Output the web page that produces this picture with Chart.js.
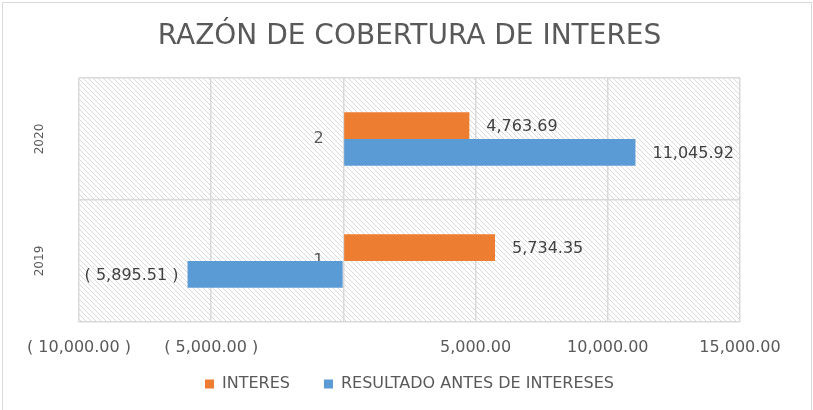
<!DOCTYPE html>
<html>
<head>
    <meta charset="UTF-8" />
    <title>Razón de cobertura de intereses</title>
    <script src="https://cdn.jsdelivr.net/npm/chart.js@4.4.1/dist/chart.umd.min.js"></script>
    <style>
        body { margin: 0; background: white; }
        #wrap { position: relative; width: 813px; height: 410px; overflow: hidden; }
        #frame {
            position: absolute; left: 2px; top: 2px; width: 808px; height: 420px;
            border: 1px solid #d9d9d9; pointer-events: none;
        }
    </style>
</head>
<body>
    <div id="wrap">
        <canvas id="coberturaChart"></canvas>
        <div id="frame"></div>
    </div>

    <script>
        var years = ['2020', '2019'];
        var rowNumbers = ['2', '1'];
        var interes = [4763.69, 5734.35];
        var resultadoAntes = [11045.92, -5895.51];
        var seriesNames = ['INTERES', 'RESULTADO ANTES DE INTERESES'];

        var fontFamily = '"DejaVu Sans", sans-serif';
        var textGray = '#595959';
        var gridGray = '#d9d9d9';

        // excel style: 5,000.00 and ( 5,000.00 ) for negatives
        function money(v) {
            var s = Math.abs(v).toFixed(2).replace(/\B(?=(\d{3})+(?!\d))/g, ',');
            return v < 0 ? '( ' + s + ' )' : s;
        }

        // diagonal hatch behind the plot area
        var hatch = document.createElement('canvas');
        hatch.width = 5;
        hatch.height = 5;
        var hctx = hatch.getContext('2d');
        hctx.strokeStyle = '#dadada';
        hctx.lineWidth = 1;
        hctx.beginPath();
        hctx.moveTo(0, 0); hctx.lineTo(5, 5);
        hctx.moveTo(-1, 4); hctx.lineTo(1, 6);
        hctx.moveTo(4, -1); hctx.lineTo(6, 1);
        hctx.stroke();

        var hatchPlugin = {
            id: 'hatch',
            beforeDraw: function (chart) {
                var a = chart.chartArea;
                var ctx = chart.ctx;
                ctx.save();
                ctx.fillStyle = ctx.createPattern(hatch, 'repeat');
                ctx.fillRect(a.left, a.top, a.right - a.left, a.bottom - a.top);
                ctx.restore();
            }
        };

        var valueLabels = {
            id: 'valueLabels',
            afterDatasetsDraw: function (chart) {
                var ctx = chart.ctx;
                ctx.save();
                ctx.font = '16px ' + fontFamily;
                ctx.fillStyle = '#404040';
                ctx.textBaseline = 'middle';
                chart.data.datasets.forEach(function (ds, i) {
                    chart.getDatasetMeta(i).data.forEach(function (bar, j) {
                        var v = ds.data[j];
                        if (v >= 0) {
                            ctx.textAlign = 'left';
                            ctx.fillText(money(v), bar.x + 17, bar.y + 1);
                        } else {
                            ctx.textAlign = 'right';
                            ctx.fillText(money(v), bar.x - 9, bar.y + 1);
                        }
                    });
                });
                ctx.restore();
            }
        };

        var data = {
            labels: years,
            datasets: [{
                label: seriesNames[0],
                data: interes,
                backgroundColor: '#ed7d31'
            }, {
                label: seriesNames[1],
                data: resultadoAntes,
                backgroundColor: '#5b9bd5'
            }]
        };

        var options = {
            indexAxis: 'y',
            responsive: true,
            maintainAspectRatio: false,
            animation: false,
            categoryPercentage: 0.44,
            barPercentage: 1,
            layout: { padding: { left: 0, right: 73, top: 0, bottom: 8 } },
            plugins: {
                title: {
                    display: true,
                    fullSize: false,
                    text: 'RAZÓN DE COBERTURA DE INTERES',
                    color: textGray,
                    font: { family: fontFamily, size: 28, weight: 'normal', lineHeight: 1.2 },
                    padding: { top: 20, bottom: 24.4 }
                },
                legend: {
                    position: 'bottom',
                    fullSize: false,
                    labels: {
                        color: textGray,
                        font: { family: fontFamily, size: 16 },
                        boxWidth: 9,
                        boxHeight: 9,
                        padding: 34
                    }
                },
                tooltip: { enabled: false }
            },
            scales: {
                x: {
                    min: -10000,
                    max: 15000,
                    ticks: {
                        stepSize: 5000,
                        color: textGray,
                        font: { family: fontFamily, size: 16 },
                        mirror: true,      // avoids the label clip, the box is shrunk below
                        padding: -35.6,
                        callback: function (v) { return v === 0 ? '' : money(v); }
                    },
                    grid: { color: gridGray, lineWidth: 1.5, drawTicks: false },
                    border: { display: false },
                    afterFit: function (s) { s.height = 20; }
                },
                y: {
                    ticks: {
                        color: textGray,
                        font: { family: fontFamily, size: 12 },
                        minRotation: 90,
                        maxRotation: 90,
                        crossAlign: 'center',
                        padding: 24
                    },
                    grid: { color: gridGray, lineWidth: 1.5, drawTicks: false },
                    border: { display: false },
                    afterFit: function (s) { s.width = 79; }
                },
                y2: {
                    axis: 'y',
                    type: 'category',
                    labels: rowNumbers,
                    offset: true,
                    position: { x: -750 },
                    ticks: {
                        color: textGray,
                        font: { family: fontFamily, size: 16 }
                    },
                    grid: { display: false },
                    border: { display: false }
                }
            }
        };

        var chart = new Chart('coberturaChart', {
            type: 'bar',
            data: data,
            options: options,
            plugins: [hatchPlugin, valueLabels]
        });
    </script>
</body>
</html>
